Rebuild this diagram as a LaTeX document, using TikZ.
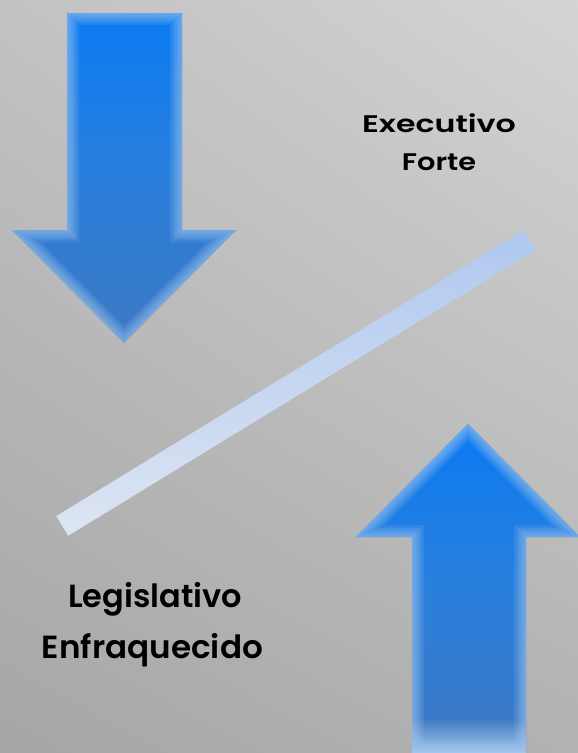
\documentclass[tikz,border=0pt]{standalone}
\usepackage{fontspec}
\setmainfont{Poppins}[BoldFont={Poppins SemiBold}]
\usetikzlibrary{calc,shadings}
\definecolor{bgUL}{HTML}{C2C2C2}
\definecolor{bgUR}{HTML}{D4D4D4}
\definecolor{bgLL}{HTML}{A6A6A6}
\definecolor{bgLR}{HTML}{B2B2B2}
\definecolor{arrTop}{HTML}{0A7AF2}
\definecolor{arrMid}{HTML}{2A7FDC}
\definecolor{arrDeep}{HTML}{3C78C2}
\definecolor{arrEdge}{HTML}{A4C8EE}
\definecolor{barDark}{HTML}{B0C8F0}
\definecolor{barLight}{HTML}{DDE5F2}
\tikzset{
  label text/.style={align=center, text=black, inner sep=0pt, anchor=base},
  upper text/.style={label text, font=\bfseries\fontsize{24}{30}\selectfont},
  lower text/.style={label text, font=\bfseries\fontsize{32}{40}\selectfont},
  glow/.style={draw=arrEdge, line width=#1, opacity=0.14, line join=miter},
  barbox/.style={rectangle, inner sep=0pt, minimum width=548pt, minimum height=23pt,
     top color=barDark, bottom color=barLight, draw=none},
}
\newcommand\softedge[1]{%
  \begin{scope}
    \clip #1;
    \foreach \w in {24,19,15,11,7,3} {\draw[glow=\w pt] #1;}
  \end{scope}}
\begin{document}
\begin{tikzpicture}[x=1pt,y=-1pt]
\useasboundingbox (0,0) rectangle (578,753);
% background
\shade[upper left=bgUL, upper right=bgUR, lower left=bgLL, lower right=bgLR] (0,0) rectangle (578,753);
% down arrow
\def\dnarr{(67,13) -- (182,13) -- (182,230) -- (236,230) -- (124,343) -- (12,230) -- (67,230) -- cycle}
\shade[top color=arrTop, bottom color=arrDeep, middle color=arrMid] \dnarr;
\softedge{\dnarr}
% up arrow
\def\uparr{(468,424) -- (580,537) -- (526,537) -- (526,753) -- (412,753) -- (412,537) -- (356,537) -- cycle}
\shade[top color=arrTop, bottom color=arrDeep, middle color=arrMid] \uparr;
\shade[top color=arrDeep, bottom color=arrEdge] (412,718) rectangle (526,753);
\softedge{\uparr}
% diagonal bar
\node[barbox, rotate=31.43] (bar) at (296,383) {};
% labels
\node[upper text, xscale=1.32] (exe1) at (439,132) {Executivo};
\node[upper text, xscale=1.2] (exe2) at (439,170) {Forte};
\node[lower text] (leg1) at (155,607) {Legislativo};
\node[lower text, xscale=1.02] (leg2) at (152.5,658) {Enfraquecido};
\end{tikzpicture}
\end{document}
